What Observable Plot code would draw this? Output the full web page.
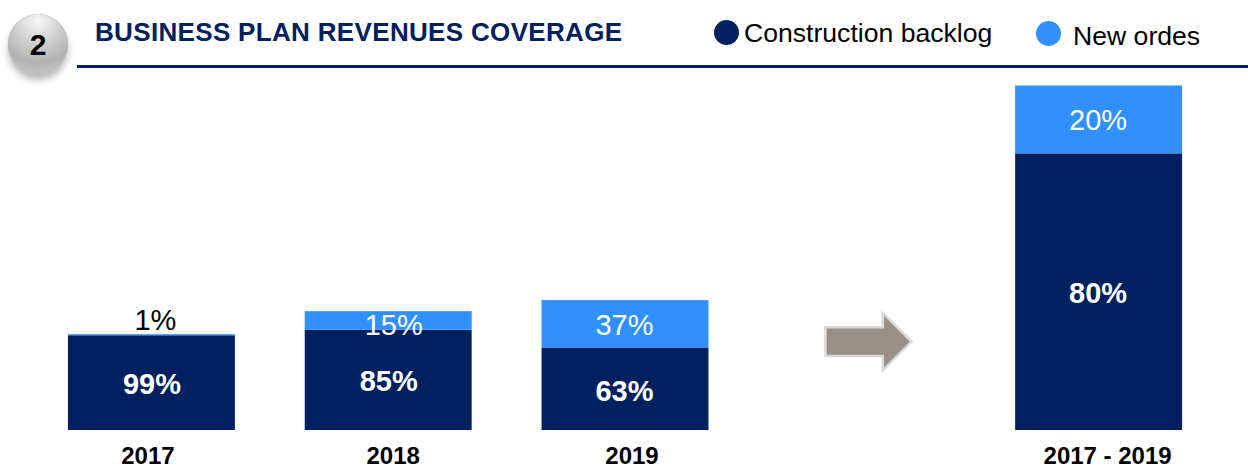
<!DOCTYPE html>
<html>
<head>
<meta charset="utf-8">
<script src="https://cdn.jsdelivr.net/npm/d3@7"></script>
<script src="https://cdn.jsdelivr.net/npm/@observablehq/plot@0.6"></script>
<style>
  html, body { margin: 0; padding: 0; background: #fff; }
  body { width: 1248px; height: 476px; overflow: hidden; font-family: "Liberation Sans", Arial, sans-serif; }
  #header { position: relative; width: 1248px; height: 70px; }
  #header > * { position: absolute; }
  #badge { left: 8px; top: 14px; width: 60px; height: 60px; border-radius: 50%;
    background: radial-gradient(circle at 50% 12%, #f7f7f7 0%, #cfcfcf 38%, #b2b2b2 68%, #c4c4c4 88%, #ececec 100%);
    box-shadow: 0 6px 7px rgba(0,0,0,.28), inset 0 0 1px #999;
    font: bold 30px "Liberation Sans", Arial, sans-serif; line-height: 62px; text-align: center; color: #000; }
  #title { left: 95px; top: 17px; font: bold 26px "Liberation Sans", Arial, sans-serif; letter-spacing: .33px; line-height: 30px; color: #002060; white-space: nowrap; }
  #rule { left: 77px; top: 65px; width: 1171px; height: 3px; background: #002060; }
  .swatch { width: 25px; height: 25px; border-radius: 50%; }
  .legend { font: 26.6px "Liberation Sans", Arial, sans-serif; line-height: 32px; color: #000; white-space: nowrap; }
  #chart svg { display: block; }
</style>
</head>
<body>
<div id="header">
  <div id="badge">2</div>
  <div id="title"></div>
  <div class="swatch" id="sw0" style="left:714px;top:20px"></div>
  <div class="legend" id="lg0" style="left:744px;top:17px"></div>
  <div class="swatch" id="sw1" style="left:1036px;top:21px"></div>
  <div class="legend" id="lg1" style="left:1073px;top:20px"></div>
  <div id="rule"></div>
</div>
<div id="chart"></div>
<script>
const chartTitle = "BUSINESS PLAN REVENUES COVERAGE";
const periods = ["2017", "2018", "2019", "2017 - 2019"];
const seriesNames = ["Construction backlog", "New ordes"];
const seriesColors = ["#002060", "#3090FF"];
// Bar heights, as a share of the 2017-2019 plan total
const backlogValues = [27.5, 29.1, 23.8, 80.3];
const newOrderValues = [0.3, 5.4, 13.9, 19.7];
// Printed percentage labels
const backlogLabels = ["99%", "85%", "63%", "80%"];
const newOrderLabels = ["1%", "15%", "37%", "20%"];

const gap = " "; // empty slot on the x axis, holds the arrow
const xDomain = ["2017", "2018", "2019", gap, "2017 - 2019"];

document.getElementById("title").textContent = chartTitle;
document.getElementById("lg0").textContent = seriesNames[0];
document.getElementById("lg1").textContent = seriesNames[1];
document.getElementById("sw0").style.background = seriesColors[0];
document.getElementById("sw1").style.background = seriesColors[1];

const table = [
  ...periods.map((p, i) => ({period: p, series: seriesNames[0], value: backlogValues[i], label: backlogLabels[i]})),
  ...periods.map((p, i) => ({period: p, series: seriesNames[1], value: newOrderValues[i], label: newOrderLabels[i]}))
];

const stacked = {x: "period", y: "value", z: "series", order: null};
const labelFont = {fontFamily: "Liberation Sans, Arial, sans-serif", fontSize: 29, text: "label"};

// Block arrow drawn as a custom dot symbol, scaled by the dot's radius
const blockArrow = {
  draw(ctx, size) {
    const r = Math.sqrt(size / Math.PI);
    const h = r * 2 / 3;
    ctx.moveTo(-r, -h / 2);
    ctx.lineTo(r / 3, -h / 2);
    ctx.lineTo(r / 3, -h);
    ctx.lineTo(r, 0);
    ctx.lineTo(r / 3, h);
    ctx.lineTo(r / 3, h / 2);
    ctx.lineTo(-r, h / 2);
    ctx.closePath();
  }
};

const tickNudge = {"2017": -4, "2018": 4.5, "2019": 6.5, "2017 - 2019": 8.5};
// Label offsets per bar, as placed in the original slide
const backlogNudge = {"2017": [0, 2], "2018": [0, 1], "2019": [-1, 2], "2017 - 2019": [-1, 2]};
const newOrderNudge = {"2017": [3.5, -15], "2018": [5, 5], "2019": [-1, 1], "2017 - 2019": [-1, 1]};

const labelMarks = periods.flatMap(p => [
  Plot.text(table, Plot.filter(d => d.series === seriesNames[0] && d.period === p,
    Plot.stackY({...stacked, ...labelFont, fill: "#fff", fontWeight: "bold",
      dx: backlogNudge[p][0], dy: backlogNudge[p][1]}))),
  Plot.text(table, Plot.filter(d => d.series === seriesNames[1] && d.period === p,
    Plot.stackY({...stacked, ...labelFont, fill: p === "2017" ? "#000" : "#fff",
      dx: newOrderNudge[p][0], dy: newOrderNudge[p][1]})))
]);

const plot = Plot.plot({
  width: 1248,
  height: 406,
  marginTop: 15.5,
  marginBottom: 46,
  marginLeft: 33,
  marginRight: 31,
  style: {background: "transparent", fontFamily: "Liberation Sans, Arial, sans-serif"},
  x: {domain: xDomain, paddingInner: 0.295, paddingOuter: 0.1475, round: false, axis: null},
  y: {domain: [0, 100], axis: null},
  color: {domain: seriesNames, range: seriesColors},
  marks: [
    Plot.barY(table, Plot.stackY({...stacked, fill: "series"})),
    ...labelMarks,
    Plot.dot([{x: gap, y: 25.8}], {
      x: "x", y: "y", r: 43, dx: 6.2, symbol: blockArrow,
      fill: "#998F85", stroke: "#D9D9D9", strokeWidth: 2.5
    }),
    ...periods.map(p => Plot.axisX({
      ticks: [p], tickSize: 0, tickPadding: 16, dx: tickNudge[p],
      fontSize: 24, fontWeight: "bold", fill: "#000", label: null,
      fontFamily: "Liberation Sans, Arial, sans-serif"
    }))
  ]
});
document.getElementById("chart").appendChild(plot);
</script>
</body>
</html>
